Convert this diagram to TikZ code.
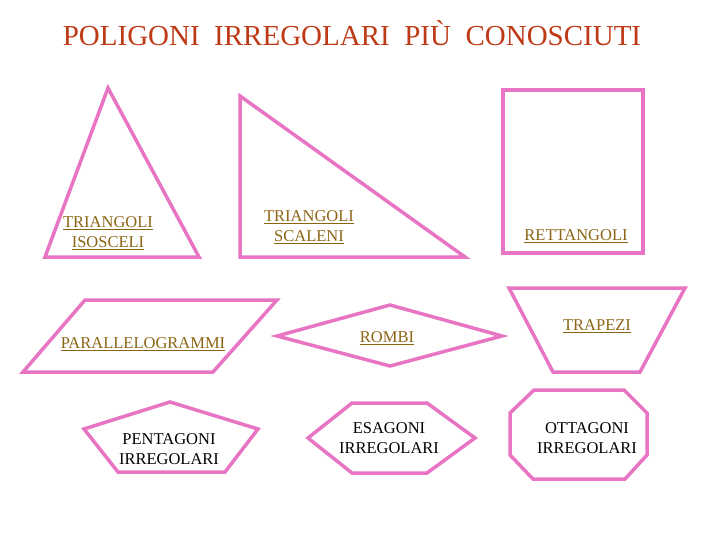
\documentclass[tikz,border=0pt]{standalone}
\usepackage{fontspec}
\setmainfont{Liberation Serif}
\definecolor{pinkline}{RGB}{232,116,196}
\definecolor{goldtext}{RGB}{139,100,20}
\definecolor{titlered}{RGB}{190,58,22}
\begin{document}
\begin{tikzpicture}[x=1pt,y=-1pt,
  pline/.style={draw=pinkline,line width=3.5pt,line join=miter},
  lbl/.style={text=goldtext,font=\fontsize{16.5}{20}\selectfont,align=center,inner sep=0pt},
  blk/.style={text=black,font=\fontsize{16.5}{19.5}\selectfont,align=center,inner sep=0pt}]
\useasboundingbox (0,0) rectangle (720,540);
\node[text=titlered,font=\fontsize{29}{32}\selectfont] (title) at (352,33) {POLIGONI\ \ IRREGOLARI\ \ PIÙ\ \ CONOSCIUTI};
% isosceles
\draw[pline] (45,257) -- (108,88) -- (199,257) -- cycle;
\node[lbl] (iso) at (108,233) {\underline{TRIANGOLI}\\\underline{ISOSCELI}};
% scalene
\draw[pline] (240,96) -- (240,257) -- (465,257) -- cycle;
\node[lbl] (sca) at (309,227) {\underline{TRIANGOLI}\\\underline{SCALENI}};
% rectangle
\draw[pline] (503,90) rectangle (643,253);
\node[lbl] (ret) at (576,236) {\underline{RETTANGOLI}};
% parallelogram
\draw[pline] (85,300) -- (277,300) -- (213,372) -- (23,372) -- cycle;
\node[lbl] (par) at (143,344) {\underline{PARALLELOGRAMMI}};
% rhombus
\draw[pline] (277,336) -- (390,305) -- (502,336) -- (390,366) -- cycle;
\node[lbl] (rom) at (387,338) {\underline{ROMBI}};
% trapezoid
\draw[pline] (509,288) -- (685,288) -- (640,372) -- (553,372) -- cycle;
\node[lbl] (tra) at (597,326) {\underline{TRAPEZI}};
% pentagon
\draw[pline] (170,402) -- (258,429) -- (225,472) -- (118,472) -- (84,429) -- cycle;
\node[blk] (pen) at (169,449) {PENTAGONI\\IRREGOLARI};
% hexagon
\draw[pline] (308,438) -- (352,403) -- (427,403) -- (475,438) -- (427,473) -- (352,473) -- cycle;
\node[blk] (esa) at (389,438) {ESAGONI\\IRREGOLARI};
% octagon
\draw[pline] (534,390) -- (624,390) -- (647,413) -- (647,455) -- (625,479) -- (533,479) -- (510,455) -- (510,413) -- cycle;
\node[blk] (ott) at (587,438) {OTTAGONI\\IRREGOLARI};
\end{tikzpicture}
\end{document}
